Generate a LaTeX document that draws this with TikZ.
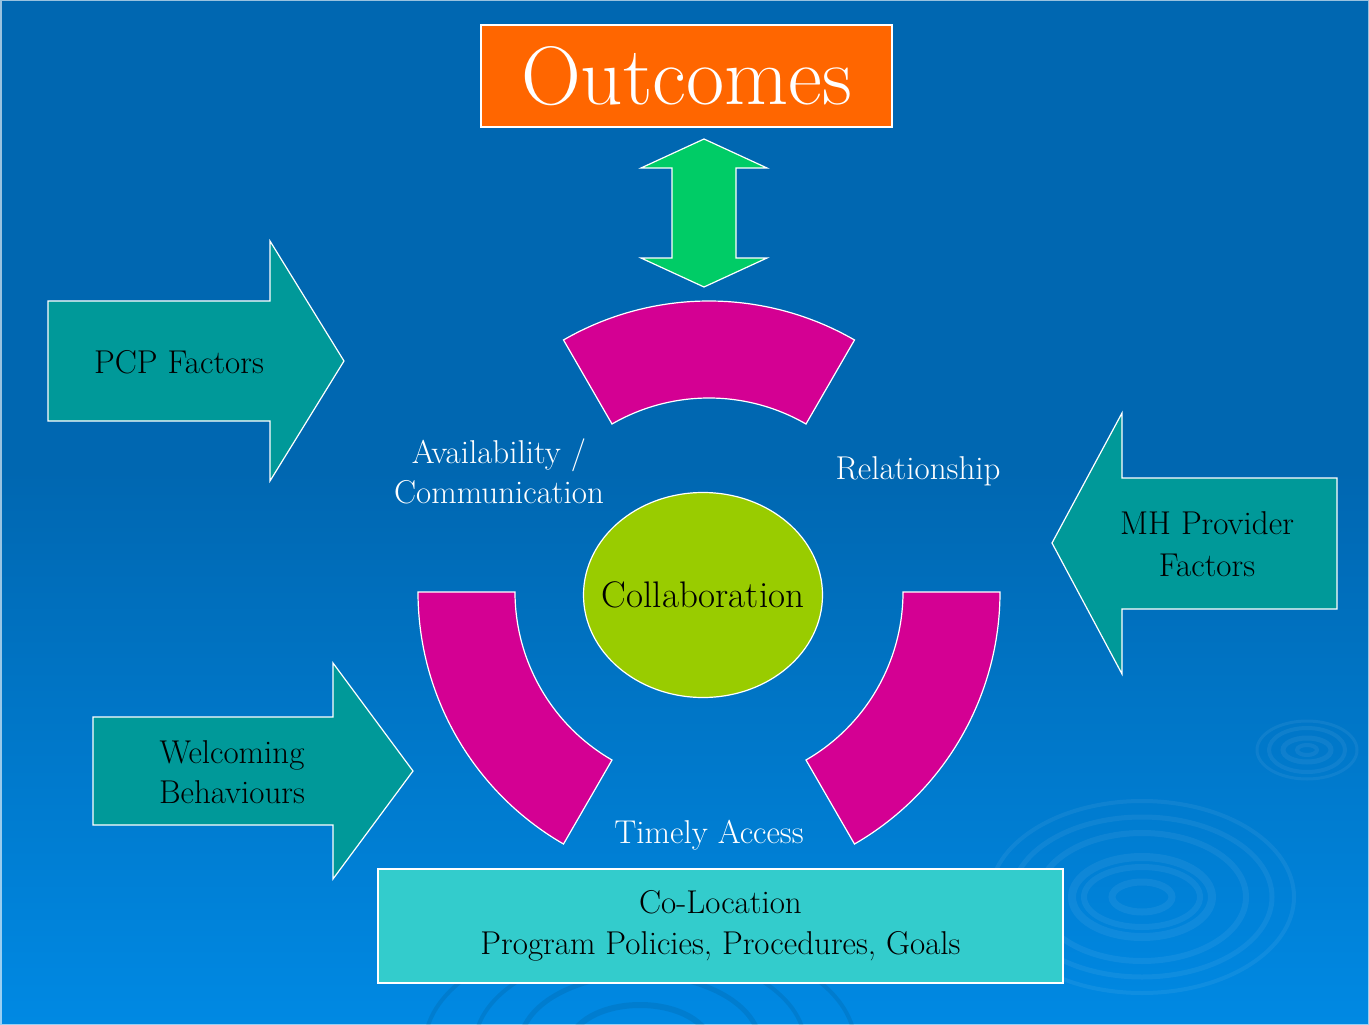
\documentclass[tikz,border=0pt]{standalone}
\usepackage{fontspec}
\usetikzlibrary{shapes.geometric}

\definecolor{bgtop}{HTML}{0067B1}
\definecolor{bgbot}{HTML}{0089E3}
\definecolor{ringpink}{HTML}{D40093}
\definecolor{tealfill}{HTML}{009999}
\definecolor{greenfill}{HTML}{00CC66}
\definecolor{limefill}{HTML}{99CC00}
\definecolor{orangefill}{HTML}{FF6600}
\definecolor{aquafill}{HTML}{33CCCC}

\begin{document}
\begin{tikzpicture}[x=1pt,y=-1pt,
  outline/.style={draw=white, line width=1.2pt, line join=miter},
  tealarrow/.style={outline, fill=tealfill},
  ringpart/.style={outline, fill=ringpink},
  lighttext/.style={text=white, font=\fontsize{33}{40}\selectfont, align=center, inner sep=0pt},
  darktext/.style={text=black, font=\fontsize{33}{41}\selectfont, align=center, inner sep=0pt},
  ripple/.style={draw=white, draw opacity=0.06},
  shadowripple/.style={draw=black, draw opacity=0.08}]

\useasboundingbox (0,0) rectangle (1369,1025);

% background with gradient in the lower half
\fill[bgtop] (0,0) rectangle (1369,1025);
\shade[top color=bgtop, bottom color=bgbot] (0,470) rectangle (1369,1025);
\draw[white, opacity=0.6, line width=1.5pt] (0.75,0.75) rectangle (1368.25,1024.25);

% water ripples
\foreach \rx/\ry/\w in {152/96/4, 130/80/5, 104/64/6, 70/40/8, 58/30/6, 30/15/7}
  \draw[ripple, line width=\w] (1142,897) ellipse [x radius=\rx, y radius=\ry];
\foreach \rx/\ry/\w in {50/29/3, 38/22/4, 24/12/5, 10/5/4}
  \draw[ripple, line width=\w] (1307,750) ellipse [x radius=\rx, y radius=\ry];
\foreach \rx/\ry/\w in {70/40/6, 120/70/5, 165/95/4, 215/115/4}
  \draw[shadowripple, line width=\w] (640,1045) ellipse [x radius=\rx, y radius=\ry];

% ring segments around the centre
\begin{scope}[shift={(709,592)}]
  \draw[ringpart] (-120:291) arc[start angle=-120, end angle=-60, radius=291]
    -- (-60:194) arc[start angle=-60, end angle=-120, radius=194] -- cycle;
  \draw[ringpart] (180:291) arc[start angle=180, end angle=120, radius=291]
    -- (120:194) arc[start angle=120, end angle=180, radius=194] -- cycle;
  \draw[ringpart] (0:291) arc[start angle=0, end angle=60, radius=291]
    -- (60:194) arc[start angle=60, end angle=0, radius=194] -- cycle;
\end{scope}

% centre
\draw[outline, fill=limefill] (703,595) ellipse [x radius=119.5, y radius=102.5];
\node[darktext, font=\fontsize{37}{40}\selectfont] (collab) at (703,595) {Collaboration};

% outcomes box and two-way arrow
\node[rectangle, outline, fill=orangefill, minimum width=411pt, minimum height=102pt,
      text=white, font=\fontsize{83}{90}\selectfont, inner sep=0pt] (outcomes) at (686.5,76) {Outcomes};
\draw[outline, fill=greenfill] (704,139) -- (767,168) -- (736,168) -- (736,258) -- (767,258)
  -- (704,287) -- (641,258) -- (672,258) -- (672,168) -- (641,168) -- cycle;

% factor arrows
\draw[tealarrow] (48,301) -- (270,301) -- (270,241) -- (344,361) -- (270,481) -- (270,421) -- (48,421) -- cycle;
\node[darktext] (pcp) at (179,362) {PCP Factors};

\draw[tealarrow] (93,717) -- (333,717) -- (333,663) -- (413,771) -- (333,879) -- (333,825) -- (93,825) -- cycle;
\node[darktext, font=\fontsize{33}{40}\selectfont] (welcome) at (232,772) {Welcoming\\ Behaviours};

\draw[tealarrow] (1337,478) -- (1122,478) -- (1122,413) -- (1052,543) -- (1122,674) -- (1122,609) -- (1337,609) -- cycle;
\node[darktext, font=\fontsize{33}{42}\selectfont] (mh) at (1207,544) {MH Provider\\Factors};

% labels between the ring segments
\node[lighttext] (avail) at (499,471) {Availability /\\Communication};
\node[lighttext] (relation) at (918,471) {Relationship};
\node[lighttext] (timely) at (709,835) {Timely Access};

% base box
\node[rectangle, draw=white, line width=1.5pt, fill=aquafill, minimum width=685pt, minimum height=114pt,
      darktext] (colocation) at (720.5,926) {Co-Location\\Program Policies, Procedures, Goals};

\end{tikzpicture}
\end{document}
